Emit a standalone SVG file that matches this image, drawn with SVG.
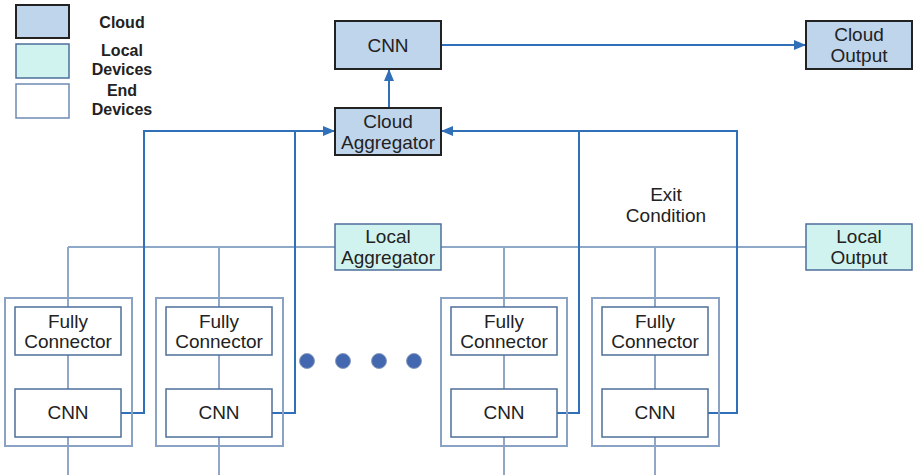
<svg xmlns="http://www.w3.org/2000/svg" width="913" height="475" viewBox="0 0 913 475">
  <defs>
    <marker id="arrow" viewBox="0 0 12 10" refX="12" refY="5" markerWidth="12" markerHeight="10" markerUnits="userSpaceOnUse" orient="auto">
      <path d="M0,0 L12,5 L0,10 z" fill="#2f70b8"/>
    </marker>
    <style>
      text { font-family: "Liberation Sans", Arial, sans-serif; fill: #222; text-anchor: middle; }
      .lbl { font-size: 19px; }
      .leg { font-size: 16px; font-weight: bold; }
      .cloud { fill: #bed5ec; stroke: #222; stroke-width: 2; }
      .local { fill: #d1f3ef; stroke: #4d6f9a; stroke-width: 1.5; }
      .end { fill: #fff; stroke: #4d6f9a; stroke-width: 1.5; }
      .outer { fill: none; stroke: #8aa3c4; stroke-width: 2; }
      .cl { fill: none; stroke: #2f70b8; stroke-width: 2; }
      .ll { fill: none; stroke: #8ea8c8; stroke-width: 2; }
      .il { fill: none; stroke: #6d8bb3; stroke-width: 1.5; }
      .dot { fill: #4468b0; stroke: #8a9cc0; stroke-width: 1; }
    </style>
  </defs>

  <!-- legend -->
  <g id="legend">
    <rect x="16" y="5" width="53" height="33" class="cloud"/>
    <rect x="16" y="44" width="53" height="34" class="local"/>
    <rect x="16" y="84" width="53" height="34" fill="#fff" stroke="#6d8bb3" stroke-width="1.5"/>
    <text class="leg" x="122" y="28">Cloud</text>
    <text class="leg" x="122" y="56">Local</text>
    <text class="leg" x="122" y="75">Devices</text>
    <text class="leg" x="122" y="96">End</text>
    <text class="leg" x="122" y="115">Devices</text>
  </g>

  <!-- connectors -->
  <g id="connectors">
    <!-- local aggregation bus -->
    <path class="ll" d="M68,247 H806"/>
    <path class="ll" d="M68,247 V307 M219,247 V307 M504,247 V307 M655,247 V307"/>
    <!-- inside end devices -->
    <path class="il" d="M68,355 V389 M219,355 V389 M504,355 V389 M655,355 V389"/>
    <path class="il" d="M68,437 V475 M219,437 V475 M504,437 V475 M655,437 V475"/>
    <!-- end devices to cloud aggregator -->
    <path class="cl" d="M121,413 H144 V131 H335" marker-end="url(#arrow)"/>
    <path class="cl" d="M272,413 H295 V131"/>
    <path class="cl" d="M557,413 H579 V131"/>
    <path class="cl" d="M708,413 H737 V131 H441" marker-end="url(#arrow)"/>
    <!-- cloud path -->
    <path class="cl" d="M389,108 V69" marker-end="url(#arrow)"/>
    <path class="cl" d="M441,45 H806" marker-end="url(#arrow)"/>
  </g>

  <g id="cloud-cnn">
    <rect x="335" y="21" width="106" height="48" class="cloud"/>
    <text class="lbl" x="388" y="52">CNN</text>
  </g>
  <g id="cloud-output">
    <rect x="806" y="21" width="106" height="48" class="cloud"/>
    <text class="lbl" x="859" y="41">Cloud</text>
    <text class="lbl" x="859" y="62">Output</text>
  </g>
  <g id="cloud-aggregator">
    <rect x="335" y="108" width="106" height="47" class="cloud"/>
    <text class="lbl" x="388" y="128">Cloud</text>
    <text class="lbl" x="388" y="149">Aggregator</text>
  </g>
  <g id="local-aggregator">
    <rect x="335" y="224" width="106" height="46" class="local"/>
    <text class="lbl" x="388" y="243">Local</text>
    <text class="lbl" x="388" y="264">Aggregator</text>
  </g>
  <g id="local-output">
    <rect x="806" y="224" width="106" height="46" class="local"/>
    <text class="lbl" x="859" y="243">Local</text>
    <text class="lbl" x="859" y="264">Output</text>
  </g>
  <g id="exit-condition">
    <text class="lbl" x="666" y="201">Exit</text>
    <text class="lbl" x="666" y="222">Condition</text>
  </g>

  <!-- end devices -->
  <g id="end-device-1">
    <rect x="5" y="298" width="127" height="148" class="outer"/>
    <rect x="15" y="307" width="106" height="48" class="end"/>
    <text class="lbl" x="68" y="328">Fully</text>
    <text class="lbl" x="68" y="348">Connector</text>
    <rect x="15" y="389" width="106" height="48" class="end"/>
    <text class="lbl" x="68" y="419">CNN</text>
  </g>
  <g id="end-device-2">
    <rect x="156" y="298" width="127" height="148" class="outer"/>
    <rect x="166" y="307" width="106" height="48" class="end"/>
    <text class="lbl" x="219" y="328">Fully</text>
    <text class="lbl" x="219" y="348">Connector</text>
    <rect x="166" y="389" width="106" height="48" class="end"/>
    <text class="lbl" x="219" y="419">CNN</text>
  </g>
  <g id="ellipsis">
    <circle class="dot" cx="307" cy="361" r="7.5"/>
    <circle class="dot" cx="343" cy="361" r="7.5"/>
    <circle class="dot" cx="379" cy="361" r="7.5"/>
    <circle class="dot" cx="414" cy="361" r="7.5"/>
  </g>
  <g id="end-device-3">
    <rect x="441" y="298" width="126" height="148" class="outer"/>
    <rect x="451" y="307" width="106" height="48" class="end"/>
    <text class="lbl" x="504" y="328">Fully</text>
    <text class="lbl" x="504" y="348">Connector</text>
    <rect x="451" y="389" width="106" height="48" class="end"/>
    <text class="lbl" x="504" y="419">CNN</text>
  </g>
  <g id="end-device-4">
    <rect x="592" y="298" width="127" height="148" class="outer"/>
    <rect x="602" y="307" width="106" height="48" class="end"/>
    <text class="lbl" x="655" y="328">Fully</text>
    <text class="lbl" x="655" y="348">Connector</text>
    <rect x="602" y="389" width="106" height="48" class="end"/>
    <text class="lbl" x="655" y="419">CNN</text>
  </g>
</svg>
